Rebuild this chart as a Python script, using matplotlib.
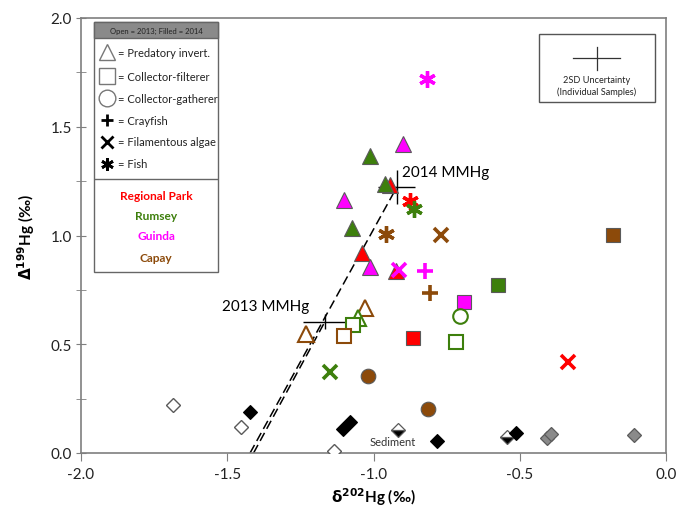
import matplotlib
matplotlib.use("Agg")
import matplotlib.pyplot as plt
from matplotlib.patches import Rectangle

plt.rcParams["font.family"] = ["Lato", "DejaVu Sans"]

# ── site colours ─────────────────────────────────────────────
SITE_COLORS = {
    "Regional Park": "#ff0000",
    "Rumsey": "#3d7f0c",
    "Guinda": "#ff00ff",
    "Capay": "#8c4a0a",
}
R, G, M, C = "Regional Park", "Rumsey", "Guinda", "Capay"

# ── data (δ202Hg, Δ199Hg), filled = 2014, open = 2013 ──────────
tri_x = [-0.944, -0.961, -1.012, -0.899, -1.101, -1.072, -1.039, -1.012, -0.924, -1.232, -1.029, -1.054]
tri_y = [1.232, 1.237, 1.366, 1.421, 1.163, 1.034, 0.920, 0.855, 0.837, 0.547, 0.665, 0.619]
tri_site = [R, G, G, M, M, G, R, M, R, C, C, G]
tri_filled = [True, True, True, True, True, True, True, True, True, False, False, False]

sq_x = [-1.069, -1.100, -0.864, -0.718, -0.691, -0.574, -0.182]
sq_y = [0.589, 0.537, 0.527, 0.509, 0.693, 0.772, 1.002]
sq_site = [G, C, R, G, M, G, C]
sq_filled = [False, False, True, False, True, True, True]

circ_x = [-0.704, -1.018, -0.813]
circ_y = [0.631, 0.355, 0.202]
circ_site = [G, C, C]
circ_filled = [False, True, True]

cray_x = [-0.824, -0.807]
cray_y = [0.838, 0.734]
cray_site = [M, C]

algae_x = [-0.912, -1.149, -0.769, -0.336]
algae_y = [0.843, 0.371, 1.002, 0.417]
algae_site = [M, G, C, R]

fish_x = [-0.816, -0.875, -0.862, -0.957]
fish_y = [1.720, 1.160, 1.122, 1.007]
fish_site = [M, R, G, C]

sed_x = [-1.684, -1.422, -1.454, -1.135, -1.103, -1.080, -0.915, -0.782, -0.545, -0.514, -0.408, -0.393, -0.109]
sed_y = [0.221, 0.187, 0.118, 0.011, 0.110, 0.144, 0.106, 0.057, 0.072, 0.091, 0.069, 0.087, 0.083]
sed_kind = ["open", "black", "open", "open", "black", "black", "half", "black", "half", "black", "gray", "gray", "gray"]

# MMHg end-members and mixing lines
mm_label = ["2013 MMHg", "2014 MMHg"]
mm_x = [-1.166, -0.920]
mm_y = [0.604, 1.223]
mm_xerr = [0.075, 0.063]
mm_yerr = [0.035, 0.080]
line_x0 = [-1.410, -1.422]   # x-intercepts of the dashed lines

EDGE = "#5a5a5a"

fig = plt.figure(figsize=(6.77, 5.10), dpi=100)
ax = fig.add_axes([81 / 677, 1 - 454 / 510, 585 / 677, 435 / 510])

# dashed MMHg lines
for x0, xm, ym in zip(line_x0, mm_x, mm_y):
    ax.plot([x0, xm], [0, ym], color="black", lw=1.1, ls=(0, (6, 3)), zorder=2)

# MMHg crosshairs
for lab, x, y, xe, ye in zip(mm_label, mm_x, mm_y, mm_xerr, mm_yerr):
    ax.errorbar(x, y, xerr=xe, yerr=ye, fmt="none", ecolor="black", elinewidth=1, capsize=0, zorder=3)
ax.text(mm_x[0] - 0.055, mm_y[0] + 0.07, mm_label[0], fontsize=11, ha="right", va="center")
ax.text(mm_x[1] + 0.017, mm_y[1] + 0.07, mm_label[1], fontsize=11, ha="left", va="center")


def draw_group(xs, ys, sites, filled, marker, ms):
    for x, y, s, f in zip(xs, ys, sites, filled):
        col = SITE_COLORS[s]
        if f:
            ax.plot(x, y, marker=marker, ms=ms, mfc=col, mec=EDGE, mew=0.8, ls="none", zorder=4)
        else:
            ax.plot(x, y, marker=marker, ms=ms, mfc="white", mec=col, mew=1.5, ls="none", zorder=4)


draw_group(tri_x, tri_y, tri_site, tri_filled, "^", 12)
draw_group(sq_x, sq_y, sq_site, sq_filled, "s", 10)
draw_group(circ_x, circ_y, circ_site, circ_filled, "o", 10.5)

for x, y, s in zip(cray_x, cray_y, cray_site):
    ax.plot(x, y, marker="+", ms=11, mec=SITE_COLORS[s], mew=2.6, ls="none", zorder=4)
for x, y, s in zip(algae_x, algae_y, algae_site):
    ax.plot(x, y, marker="x", ms=10, mec=SITE_COLORS[s], mew=2.6, ls="none", zorder=4)
for x, y, s in zip(fish_x, fish_y, fish_site):
    ax.plot(x, y, marker=(6, 2, 0), ms=12, mec=SITE_COLORS[s], mew=2.4, ls="none", zorder=4)

# sediment
for x, y, k in zip(sed_x, sed_y, sed_kind):
    if k == "black":
        ax.plot(x, y, marker="D", ms=7.5, mfc="black", mec="black", mew=0.8, ls="none", zorder=4)
    elif k == "open":
        ax.plot(x, y, marker="D", ms=7.5, mfc="white", mec=EDGE, mew=1.0, ls="none", zorder=4)
    elif k == "gray":
        ax.plot(x, y, marker="D", ms=7.5, mfc="#8a8a8a", mec=EDGE, mew=0.9, ls="none", zorder=4)
    else:
        ax.plot(x, y, marker="D", ms=7.5, fillstyle="bottom", mfc="black", mfcalt="white",
                mec=EDGE, mew=0.9, ls="none", zorder=4)
ax.text(-0.934, 0.051, "Sediment", fontsize=8, ha="center", va="center", color="#333333")

# axes styling
ax.set_xlim(-2.0, 0.0)
ax.set_ylim(0.0, 2.0)
ax.set_xticks([-2.0, -1.5, -1.0, -0.5, 0.0])
ax.set_xticklabels(["-2.0", "-1.5", "-1.0", "-0.5", "0.0"])
ax.set_yticks([0.0, 0.5, 1.0, 1.5, 2.0])
ax.set_yticks([0.25, 0.75, 1.25, 1.75], minor=True)
ax.set_yticklabels(["0.0", "0.5", "1.0", "1.5", "2.0"])
for sp in ax.spines.values():
    sp.set_color("#7f7f7f")
    sp.set_linewidth(1.2)
ax.tick_params(axis="x", direction="out", length=6, color="#7f7f7f", labelsize=11, labelcolor="#222222", pad=4)
ax.tick_params(axis="y", which="both", direction="inout", length=7, color="#7f7f7f", labelsize=11,
               labelcolor="#222222", pad=3)
ax.set_xlabel(r"$\mathbf{\delta^{202}}$" + "Hg (‰)", fontsize=11, fontweight="bold", labelpad=3)
ax.set_ylabel(r"$\mathbf{\Delta^{199}}$" + "Hg (‰)", fontsize=11, fontweight="bold", labelpad=10)

# ── symbol legend box ──────────────────────────────────────────
lg = fig.add_axes([94 / 677, 1 - 273 / 510, 124 / 677, 250 / 510])
lg.set_xlim(0, 124)
lg.set_ylim(250, 0)
lg.axis("off")
lg.add_patch(Rectangle((0, 0), 124, 250, fc="white", ec="#666666", lw=1.0, clip_on=False))
lg.add_patch(Rectangle((0, 0), 124, 16, fc="#8a8a8a", ec="#666666", lw=1.0, clip_on=False))
lg.text(62, 8, "Open = 2013; Filled = 2014", fontsize=5.5, ha="center", va="center", color="#222222")

leg_labels = ["= Predatory invert.", "= Collector-filterer", "= Collector-gatherer",
              "= Crayfish", "= Filamentous algae", "= Fish"]
leg_markers = ["^", "s", "o", "+", "x", (6, 2, 0)]
leg_y = [30, 54, 76, 98, 120, 142]
for lab, mk, yy in zip(leg_labels, leg_markers, leg_y):
    if mk in ("^", "s", "o"):
        lg.plot(13, yy, marker=mk, ms=12, mfc="white", mec="#777777", mew=1.0, ls="none")
    else:
        lg.plot(13, yy, marker=mk, ms=9, mec="black", mew=2.0, ls="none")
    lg.text(24, yy, lab, fontsize=8, ha="left", va="center", color="#222222")
lg.plot([0, 124], [157, 157], color="#666666", lw=1.0)

site_y = [173, 193, 214, 235]
for s, yy in zip(SITE_COLORS, site_y):
    lg.text(62, yy, s, fontsize=8.6, fontweight="bold", ha="center", va="center", color=SITE_COLORS[s])

# ── uncertainty box ────────────────────────────────────────────
ub = fig.add_axes([539 / 677, 1 - 103 / 510, 116 / 677, 68 / 510])
ub.set_xlim(0, 116)
ub.set_ylim(68, 0)
ub.axis("off")
ub.add_patch(Rectangle((0, 0), 116, 68, fc="white", ec="#555555", lw=1.0, clip_on=False))
ub.plot([34, 81], [24, 24], color="#333333", lw=0.9)
ub.plot([58, 58], [13, 36], color="#333333", lw=0.9)
ub.text(58, 46, "2SD Uncertainty", fontsize=6.6, ha="center", va="center", color="#222222")
ub.text(58, 57, "(Individual Samples)", fontsize=6.6, ha="center", va="center", color="#222222")

fig.savefig("out.png", dpi=100)
